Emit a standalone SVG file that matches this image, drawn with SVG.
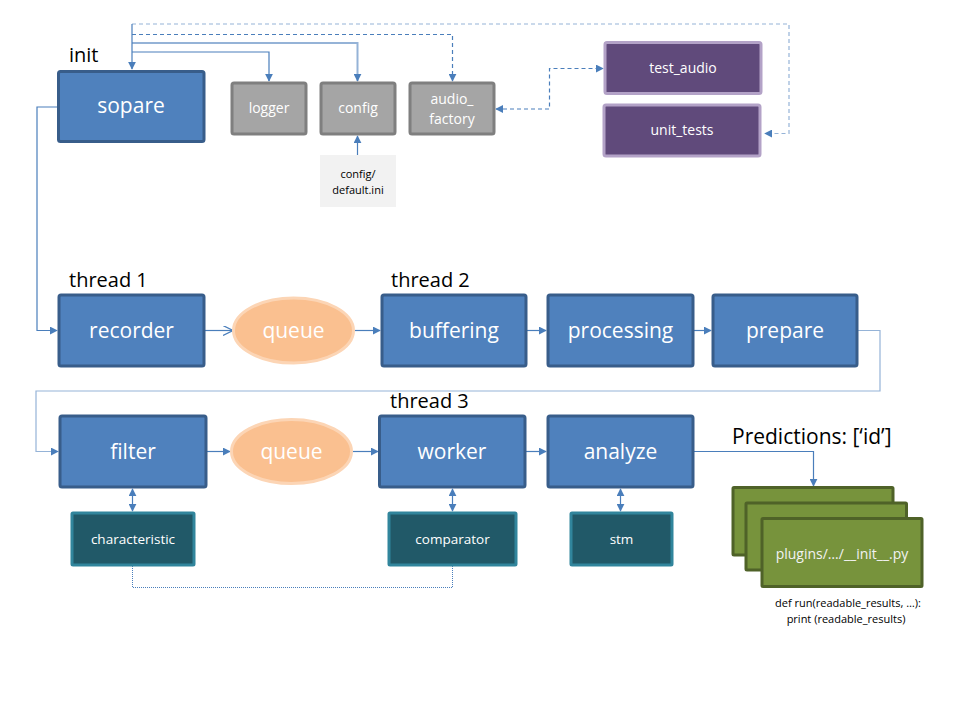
<svg xmlns="http://www.w3.org/2000/svg" width="960" height="720" viewBox="0 0 960 720">
<style>
.blue rect{fill:#4F81BD;stroke:#385D8A;stroke-width:3}
.gray rect{fill:#A5A5A5;stroke:#7F7F7F;stroke-width:3}
.purple rect{fill:#604A7B;stroke:#B3A2C7;stroke-width:3}
.teal rect{fill:#215968;stroke:#31859C;stroke-width:3}
.green rect{fill:#77933C;stroke:#4F6228;stroke-width:3}
.q ellipse{fill:#FAC090;stroke:#FCD5B5;stroke-width:3}
text{font-family:"Open Sans","Liberation Sans",sans-serif;text-anchor:middle}
.big{font-size:21px;fill:#fff}
.small{font-size:14px;fill:#fff}
.lbl{font-size:20px;fill:#000;text-anchor:start}
.note{font-size:11px;fill:#000}
.c{fill:none;stroke:#4A7EBB;stroke-width:1.2}
.lt{stroke:#95B3D7}
.d{stroke-dasharray:4 3}
</style>
<defs>
<marker id="a" viewBox="0 0 10 10" refX="9" refY="5" markerWidth="8" markerHeight="8" markerUnits="userSpaceOnUse" orient="auto-start-reverse"><path d="M0,0 L10,5 L0,10 z" fill="#4A7EBB"/></marker>
<marker id="v" viewBox="0 0 10 10" refX="9" refY="5" markerWidth="10" markerHeight="10" markerUnits="userSpaceOnUse" orient="auto"><path d="M0,0 L10,5 L0,10" fill="none" stroke="#4A7EBB" stroke-width="1.2"/></marker>
</defs>

<text class="lbl" x="69" y="62">init</text>
<text class="lbl" x="69" y="287">thread 1</text>
<text class="lbl" x="391" y="287">thread 2</text>
<text class="lbl" x="390" y="408">thread 3</text>
<text class="lbl" x="732" y="444" style="font-size:21px">Predictions: [‘id’]</text>

<g id="connectors">
<path class="c lt d" d="M132,24 H789 V133.5 H765" marker-end="url(#a)"/>
<path class="c d" d="M132,34.5 H452.5 V81" marker-end="url(#a)"/>
<path class="c lt" style="stroke-width:2" d="M132,43 H357.5 V81" marker-end="url(#a)"/>
<path class="c" d="M132,52 H269 V81" marker-end="url(#a)"/>
<path class="c" d="M132,24 V69" marker-end="url(#a)"/>
<path class="c" d="M357.5,155 V136" marker-end="url(#a)"/>
<path class="c d" d="M496,109 H549.5 V68.5 H603" marker-start="url(#a)" marker-end="url(#a)"/>
<path class="c" d="M58,107 H37 V330.5 H57" marker-end="url(#a)"/>
<path class="c" d="M205,330.5 H232" marker-end="url(#v)"/>
<path class="c" d="M355,330.5 H380" marker-end="url(#a)"/>
<path class="c" d="M527,330.5 H546" marker-end="url(#a)"/>
<path class="c" d="M694,330.5 H711" marker-end="url(#a)"/>
<path class="c lt" d="M858,330.5 H880 V391 H36 V451.5 H58" marker-end="url(#a)"/>
<path class="c" d="M207,451.5 H230" marker-end="url(#a)"/>
<path class="c" d="M353,451.5 H378" marker-end="url(#a)"/>
<path class="c" d="M526,451.5 H546" marker-end="url(#a)"/>
<path class="c" d="M694,451.5 H813.5 V486" marker-end="url(#a)"/>
<path class="c" d="M132.5,489 V511" marker-start="url(#a)" marker-end="url(#a)"/>
<path class="c" d="M452.5,489 V511" marker-start="url(#a)" marker-end="url(#a)"/>
<path class="c" d="M620.5,489 V511" marker-start="url(#a)" marker-end="url(#a)"/>
<path class="c" style="stroke-dasharray:1 1;stroke-width:1" d="M132.5,566 V587.5 H452.5 V566"/>
</g>

<g id="sopare" class="blue"><rect x="58.5" y="71.5" width="145.5" height="70" rx="2"/><text class="big" x="131" y="113">sopare</text></g>
<g id="logger" class="gray"><rect x="232" y="83" width="74" height="51" rx="2"/><text class="small" x="269" y="113">logger</text></g>
<g id="config" class="gray"><rect x="321" y="83" width="74" height="51" rx="2"/><text class="small" x="358" y="113">config</text></g>
<g id="audio_factory" class="gray"><rect x="410" y="83" width="84" height="51" rx="2"/><text class="small" x="452" y="104">audio_</text><text class="small" x="452" y="124">factory</text></g>
<g id="default_ini"><rect x="320" y="155" width="76" height="52" fill="#F2F2F2"/><text class="note" x="358" y="178">config/</text><text class="note" x="358" y="194">default.ini</text></g>
<g id="test_audio" class="purple"><rect x="605" y="42.5" width="156" height="51" rx="2"/><text class="small" x="683" y="73">test_audio</text></g>
<g id="unit_tests" class="purple"><rect x="604" y="105" width="156" height="51" rx="2"/><text class="small" x="682" y="135">unit_tests</text></g>

<g id="recorder" class="blue"><rect x="59" y="295" width="145" height="71" rx="2"/><text class="big" x="131.5" y="338">recorder</text></g>
<g id="queue1" class="q"><ellipse cx="293.5" cy="330.5" rx="60" ry="32.5"/><text class="big" x="293.5" y="338">queue</text></g>
<g id="buffering" class="blue"><rect x="382" y="295" width="144" height="71" rx="2"/><text class="big" x="454" y="338">buffering</text></g>
<g id="processing" class="blue"><rect x="548" y="295" width="145" height="71" rx="2"/><text class="big" x="620.5" y="338">processing</text></g>
<g id="prepare" class="blue"><rect x="713" y="295" width="144" height="71" rx="2"/><text class="big" x="785" y="338">prepare</text></g>

<g id="filter" class="blue"><rect x="60" y="416" width="146" height="71" rx="2"/><text class="big" x="133" y="459">filter</text></g>
<g id="queue2" class="q"><ellipse cx="291.5" cy="451.5" rx="60" ry="32"/><text class="big" x="291.5" y="459">queue</text></g>
<g id="worker" class="blue"><rect x="379.5" y="416" width="145.5" height="71" rx="2"/><text class="big" x="452" y="459">worker</text></g>
<g id="analyze" class="blue"><rect x="548" y="416" width="145" height="71" rx="2"/><text class="big" x="620.5" y="459">analyze</text></g>

<g id="characteristic" class="teal"><rect x="72" y="513" width="122" height="52" rx="1"/><text class="small" x="133" y="544" style="font-size:13.5px">characteristic</text></g>
<g id="comparator" class="teal"><rect x="389" y="513" width="127" height="52" rx="1"/><text class="small" x="452.5" y="544" style="font-size:13.5px">comparator</text></g>
<g id="stm" class="teal"><rect x="571" y="513" width="101" height="52" rx="1"/><text class="small" x="621.5" y="544" style="font-size:13.5px">stm</text></g>

<g id="plugins" class="green">
<rect x="733" y="487.5" width="160" height="67.5" rx="1"/>
<rect x="746" y="503" width="160.5" height="67" rx="1"/>
<rect x="762" y="518.5" width="160" height="68" rx="1"/>
<text class="small" x="842" y="559" style="fill:#F2F2F2">plugins/…/__init__.py</text>
<text class="note" x="848" y="607">def run(readable_results, …):</text>
<text class="note" x="846" y="623">print (readable_results)</text>
</g>
</svg>
